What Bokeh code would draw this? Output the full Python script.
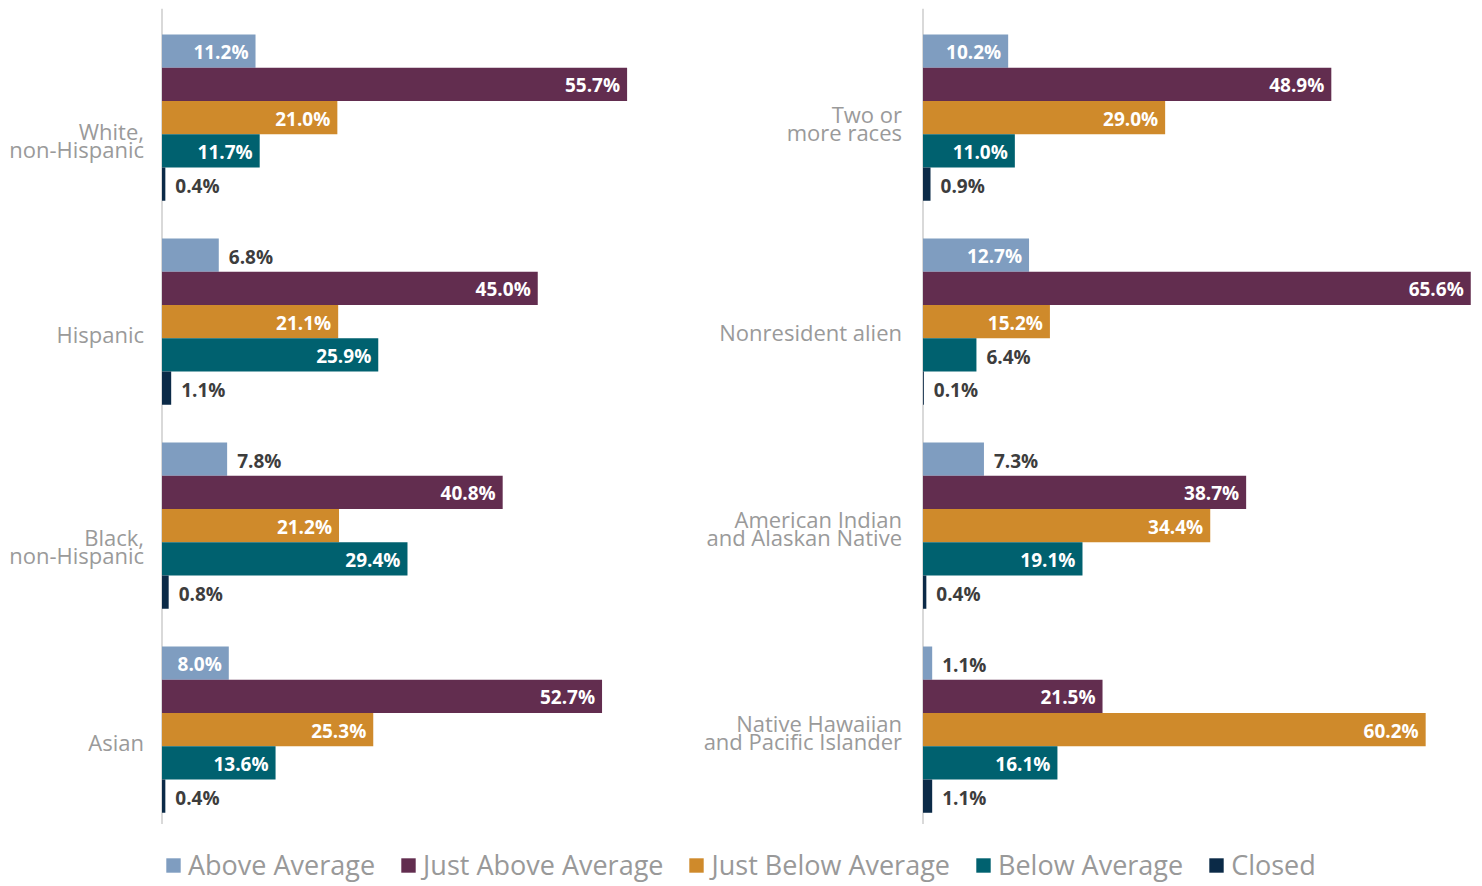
from bokeh.plotting import figure
from bokeh.models import ColumnDataSource, Span, Legend, LegendItem, FactorRange, Range1d
from bokeh.transform import dodge
from bokeh.layouts import column, row
from bokeh.core.properties import value
from bokeh.embed import file_html
from bokeh.resources import INLINE

series = ["Above Average", "Just Above Average", "Just Below Average", "Below Average", "Closed"]
colors = ["#7f9dc0", "#622d4f", "#cf8a2b", "#00616f", "#0b2a47"]

left_groups = ["White,\nnon-Hispanic", "Hispanic", "Black,\nnon-Hispanic", "Asian"]
left_above = [11.2, 6.8, 7.8, 8.0]
left_just_above = [55.7, 45.0, 40.8, 52.7]
left_just_below = [21.0, 21.1, 21.2, 25.3]
left_below = [11.7, 25.9, 29.4, 13.6]
left_closed = [0.4, 1.1, 0.8, 0.4]

right_groups = ["Two or\nmore races", "Nonresident alien",
                "American Indian\nand Alaskan Native", "Native Hawaiian\nand Pacific Islander"]
right_above = [10.2, 12.7, 7.3, 1.1]
right_just_above = [48.9, 65.6, 38.7, 21.5]
right_just_below = [29.0, 15.2, 34.4, 60.2]
right_below = [11.0, 6.4, 19.1, 16.1]
right_closed = [0.9, 0.1, 0.4, 1.1]

# styling
PX_PER_PCT = 8.35
BAR_H = 0.163
SHIFT = -0.035
FONT = "Open Sans"
LABEL_FONT = value(FONT)
LINE_GAP = 18
left_label_dy = [22, 12, 20, 12]
right_label_dy = [5, 10, 2, 2]


def panel(groups, vals_by_series, width, zero_px, label_dy, label_dx):
    p = figure(width=width, height=824,
               x_range=Range1d(-zero_px / PX_PER_PCT, (width - zero_px) / PX_PER_PCT),
               y_range=FactorRange(factors=groups[::-1]),
               output_backend="svg", toolbar_location=None,
               x_axis_location=None, y_axis_location=None,
               min_border=0, min_border_top=8, outline_line_color=None)
    p.grid.visible = False
    p.add_layout(Span(location=0, dimension="height", line_color="#d9d9d9",
                      line_width=2, level="underlay"))
    for j, (name, vals, c) in enumerate(zip(series, vals_by_series, colors)):
        off = 2 * BAR_H - j * BAR_H + SHIFT
        src = ColumnDataSource(dict(g=groups, v=vals))
        p.hbar(y=dodge("g", off, range=p.y_range), left=0, right="v", height=BAR_H,
               fill_color=c, line_color=None, source=src)
        ins = [i for i, x in enumerate(vals) if x >= 8]
        outs = [i for i, x in enumerate(vals) if x < 8]
        src_in = ColumnDataSource(dict(g=[groups[i] for i in ins], v=[vals[i] for i in ins],
                                       lab=[f"{vals[i]:.1f}%" for i in ins]))
        src_out = ColumnDataSource(dict(g=[groups[i] for i in outs], v=[vals[i] for i in outs],
                                        lab=[f"{vals[i]:.1f}%" for i in outs]))
        p.text(x="v", y=dodge("g", off, range=p.y_range), text="lab", source=src_in,
               x_offset=-7, y_offset=1, text_align="right", text_baseline="middle",
               text_color="white", text_font=LABEL_FONT, text_font_style="bold",
               text_font_size="19px")
        p.text(x="v", y=dodge("g", off, range=p.y_range), text="lab", source=src_out,
               x_offset=10, y_offset=2, text_align="left", text_baseline="middle",
               text_color="#3d3d3d", text_font=LABEL_FONT, text_font_style="bold",
               text_font_size="19px")
    # category labels, one text glyph row per line
    gs, txt, dys = [], [], []
    for g, dy in zip(groups, label_dy):
        lines = g.split("\n")
        n = len(lines)
        for i, ln in enumerate(lines):
            gs.append(g)
            txt.append(ln)
            dys.append(dy + (i - (n - 1) / 2) * LINE_GAP)
    lsrc = ColumnDataSource(dict(g=gs, t=txt, x=[0] * len(gs), dy=dys))
    p.text(x="x", y=dodge("g", SHIFT, range=p.y_range), text="t", source=lsrc,
           x_offset=label_dx, y_offset="dy", text_align="right", text_baseline="middle",
           text_color="#9a9a9a", text_font=LABEL_FONT, text_font_size="22px")
    return p


p1 = panel(left_groups, [left_above, left_just_above, left_just_below, left_below, left_closed],
           700, 161.5, left_label_dy, -18)
p2 = panel(right_groups, [right_above, right_just_above, right_just_below, right_below, right_closed],
           782, 222.5, right_label_dy, -21)

leg = figure(width=1482, height=62, output_backend="svg", toolbar_location=None,
             x_axis_location=None, y_axis_location=None, min_border=0,
             outline_line_color=None, x_range=Range1d(0, 1), y_range=Range1d(0, 1))
leg.grid.visible = False
items = []
for name, c in zip(series, colors):
    r = leg.quad(left=[5], right=[6], top=[6], bottom=[5], fill_color=c, line_color=None)
    items.append(LegendItem(label=name, renderers=[r]))
legend = Legend(items=items, orientation="horizontal", location=(164, 3),
                glyph_width=18, glyph_height=18, label_standoff=6, spacing=24,
                padding=0, margin=0, border_line_color=None, background_fill_alpha=0,
                label_text_font=FONT, label_text_font_size="27px",
                label_text_color="#999999", label_text_baseline="middle")
leg.add_layout(legend)

layout = column(row(p1, p2), leg)
open("out.html", "w").write(file_html(layout, INLINE))
